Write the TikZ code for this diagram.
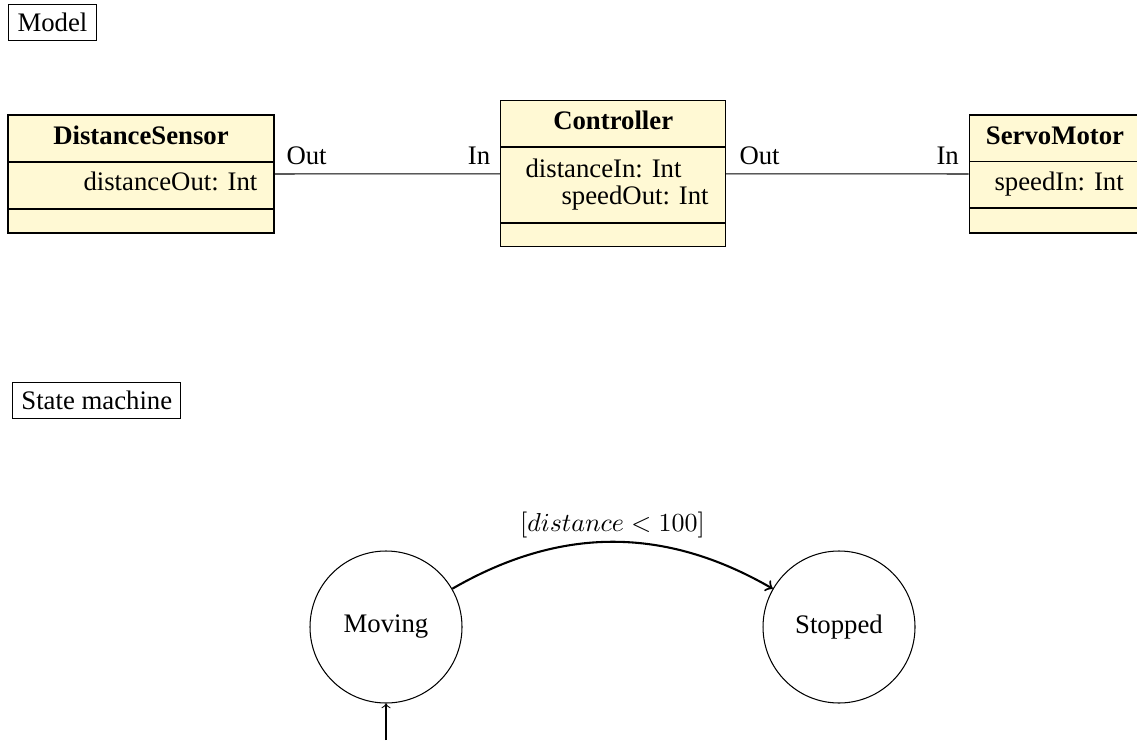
\documentclass[tikz,border=0pt]{standalone}
\usepackage{fontspec}
\setmainfont{Liberation Serif}[Scale=1.03]
\usetikzlibrary{automata,positioning}
\definecolor{classfill}{RGB}{255,249,212}
\begin{document}
\begin{tikzpicture}[x=0.385pt,y=-0.385pt,
  framelabel/.style={draw,inner sep=3.33pt},
  umlbox/.style={draw,fill=classfill,inner sep=0pt},
  classname/.style={font=\bfseries,anchor=base},
  txt/.style={anchor=base west,inner sep=0pt},
  port/.style={anchor=base west,inner sep=0pt},
  connector/.style={draw,line width=0.4pt},
  stateshape/.style={circle,draw,minimum size={152*0.385pt},inner sep=0pt},
  transition/.style={->,thick},
]
\useasboundingbox (0,0) rectangle (1137,740);

% --- Model section -------------------------------------------------
\node[framelabel] (model) at (52.5,22.5) {Model};

% DistanceSensor class
\node[umlbox,minimum width={266*0.385pt},minimum height={118*0.385pt}] (ds) at (141,174) {};
\draw (8,162) -- (274,162);
\draw (8,209) -- (274,209);
\node[classname] (dsname) at (141,145) {DistanceSensor};
\node[txt] (dsattr) at (83,190.7) {distanceOut: Int};

% Controller class
\node[umlbox,minimum width={225*0.385pt},minimum height={146.3*0.385pt}] (ctl) at (613.2,173.8) {};
\draw (500.7,147) -- (725.7,147);
\draw (500.7,223) -- (725.7,223);
\node[classname] (ctlname) at (613.2,130) {Controller};
\node[txt] (ctlattrA) at (525,177.3) {distanceIn: Int};
\node[txt] (ctlattrB) at (561,205) {speedOut: Int};

% ServoMotor class
\node[umlbox,minimum width={172*0.385pt},minimum height={118*0.385pt}] (servo) at (1055,174) {};
\draw (969,161.7) -- (1141,161.7);
\draw (969,208) -- (1141,208);
\node[classname] (servoname) at (1055,144.3) {ServoMotor};
\node[txt] (servoattr) at (994,190.7) {speedIn: Int};

% Port connections
\draw[connector] (ds.east) -- (ctl.west);
\draw[connector] (ctl.east) -- (servo.west);
\node[port] (p1) at (286,165) {Out};
\node[port,anchor=base east] (p2) at (490.7,165) {In};
\node[port] (p3) at (739,165) {Out};
\node[port,anchor=base east] (p4) at (959.3,165) {In};

% --- State machine section ----------------------------------------
\node[framelabel] (smlabel) at (96.8,400.5) {State machine};

\node[stateshape] (moving) at (386,627) {Moving};
\node[stateshape] (stopped) at (839,627) {Stopped};
\coordinate (init) at (386,740);

\draw[transition] (moving) to[bend left=30]
  node[above,inner sep=1pt] (guard) {$[distance<100]$} (stopped);
\draw[->] (init) -- (moving.south);
\end{tikzpicture}
\end{document}
